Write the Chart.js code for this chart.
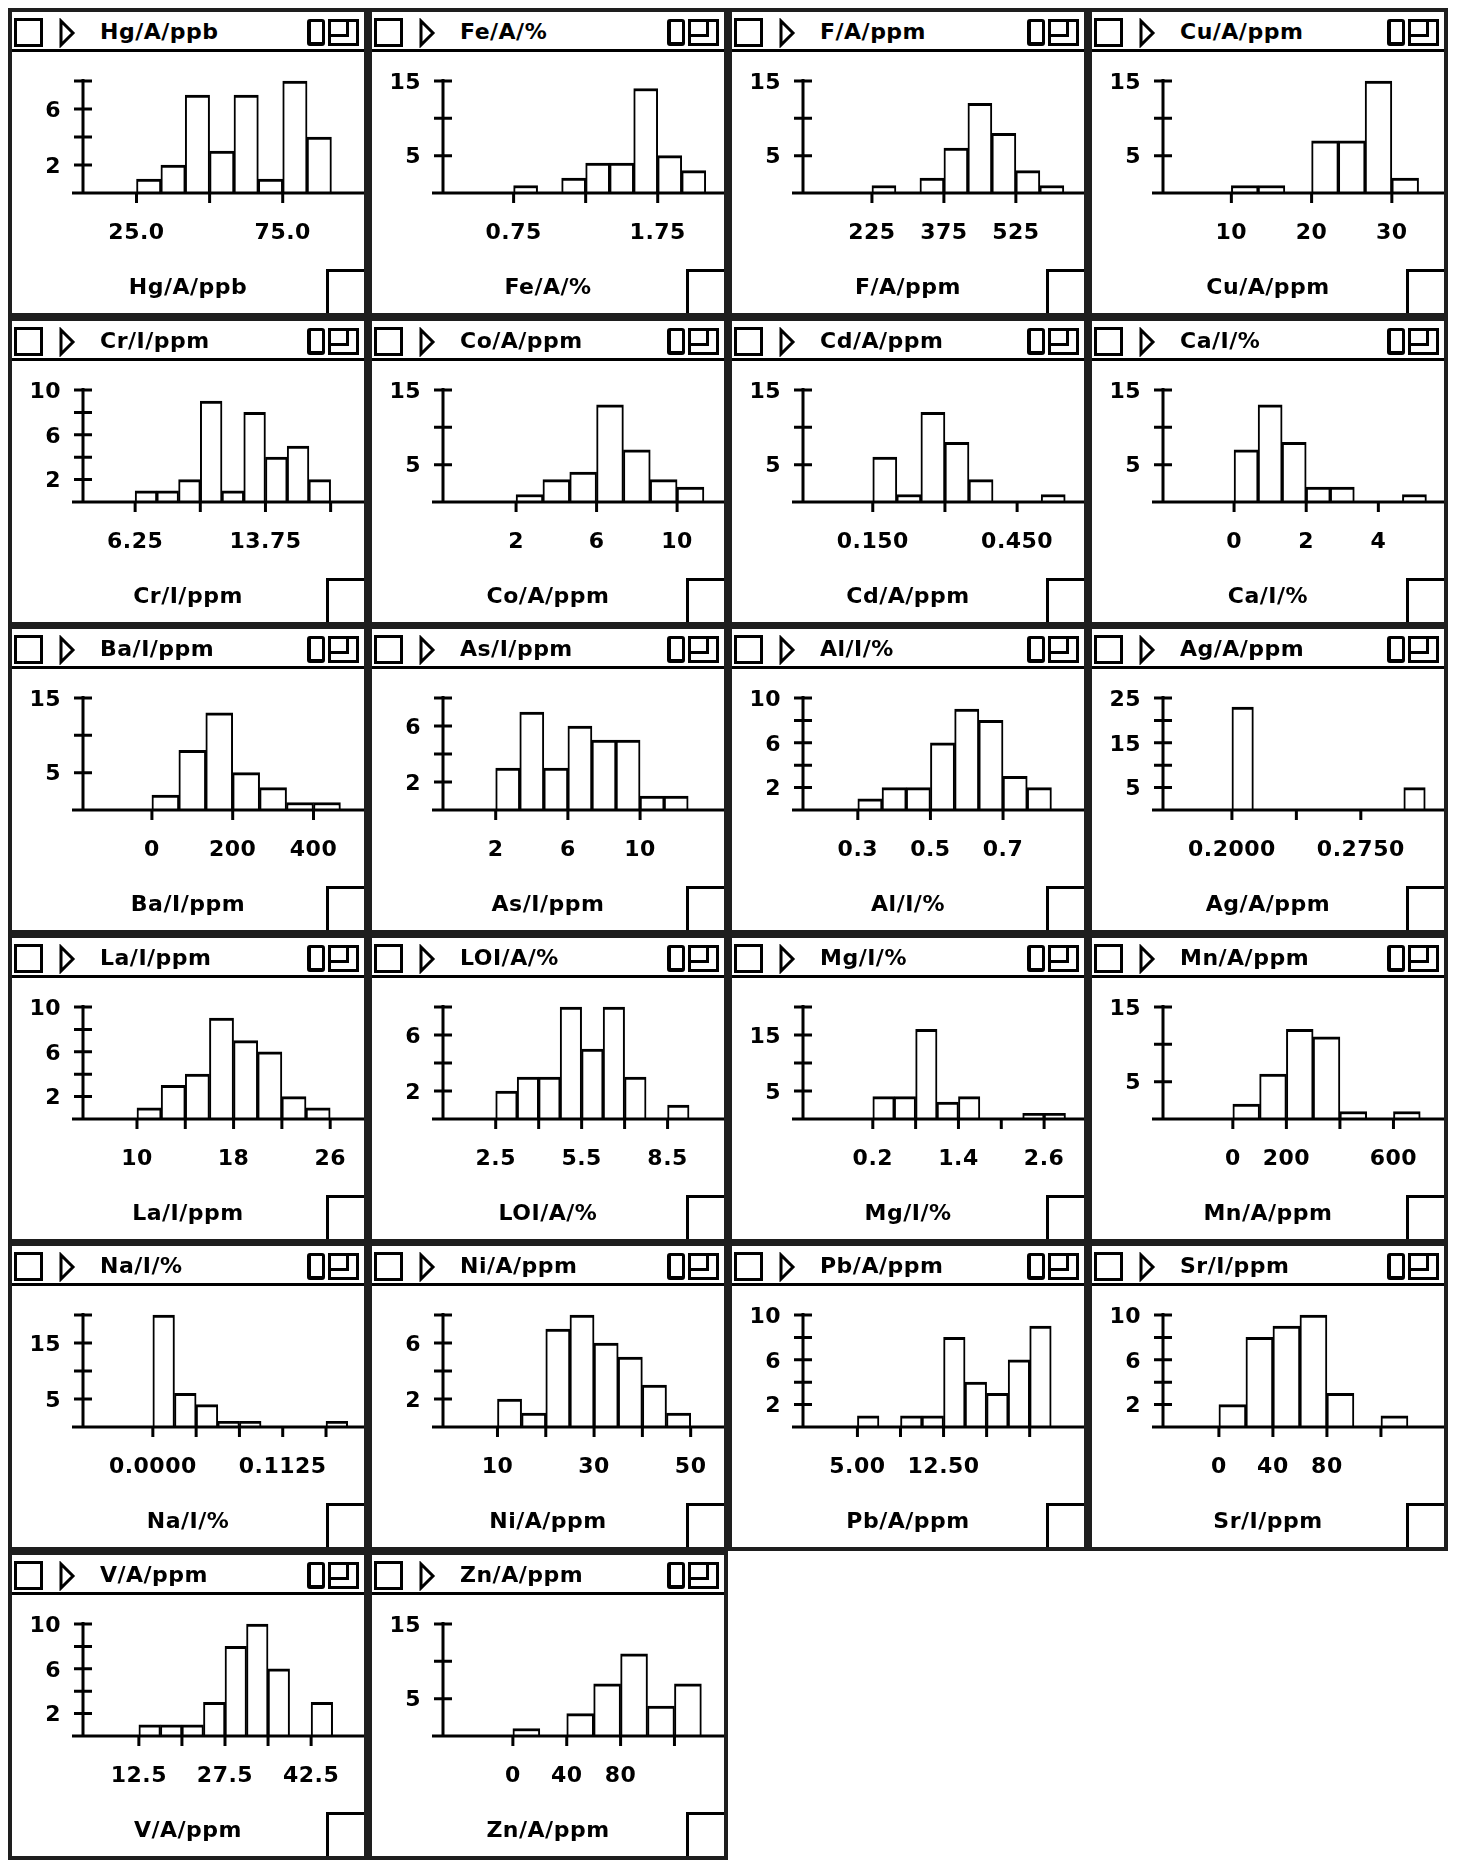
<!DOCTYPE html>
<html>
<head>
<meta charset="utf-8">
<script src="https://cdn.jsdelivr.net/npm/chart.js@4.4.1/dist/chart.umd.min.js"></script>
<style>
  html, body { margin: 0; padding: 0; background: #fff; }
  body { width: 1460px; height: 1860px; position: relative; overflow: hidden;
         font-family: "DejaVu Sans", sans-serif; font-weight: bold; color: #000; }
  .panel { position: absolute; width: 360px; height: 309px; box-sizing: border-box;
           border: 4px solid #1e1e1e; background: #fff; }
  .tbar { position: absolute; left: 0; top: 0; right: 0; height: 37px; border-bottom: 3px solid #000; }
  .chk { position: absolute; left: 2px; top: 6px; width: 29px; height: 29px; box-sizing: border-box; border: 3px solid #000; }
  .tri { position: absolute; left: 46px; top: 6px; }
  .ttl { position: absolute; left: 88px; top: 7px; font-size: 22px; line-height: 26px; letter-spacing: 0.5px; white-space: nowrap; }
  .ico1 { position: absolute; left: 295px; top: 7px; width: 18px; height: 27px; box-sizing: border-box;
          border: 3px solid #000; border-bottom-width: 4px; border-left-width: 4px; border-radius: 3px; }
  .ico2 { position: absolute; left: 316px; top: 7px; width: 31px; height: 27px; box-sizing: border-box; border: 3px solid #000; }
  .ico2 div { position: absolute; left: 0; top: 0; width: 15px; height: 12px; border-right: 3px solid #000; border-bottom: 3px solid #000; }
  canvas { position: absolute; left: 0; top: 40px; }
  .xttl { position: absolute; left: 0; right: 0; top: 261px; text-align: center; font-size: 22px;
          line-height: 28px; letter-spacing: 0.5px; }
  .corner { position: absolute; right: 0; bottom: 0; width: 38px; height: 44px; box-sizing: border-box;
            border-top: 3px solid #000; border-left: 3px solid #000; }
</style>
</head>
<body>
<script>
// one entry per histogram window
const panelNames = ["Hg/A/ppb", "Fe/A/%", "F/A/ppm", "Cu/A/ppm",
    "Cr/I/ppm", "Co/A/ppm", "Cd/A/ppm", "Ca/I/%",
    "Ba/I/ppm", "As/I/ppm", "Al/I/%", "Ag/A/ppm",
    "La/I/ppm", "LOI/A/%", "Mg/I/%", "Mn/A/ppm",
    "Na/I/%", "Ni/A/ppm", "Pb/A/ppm", "Sr/I/ppm",
    "V/A/ppm", "Zn/A/ppm"];

// left edge of the first bin and bin width
const binStart = [25, 0.75, 225, 10, 6.25, 2, 0.15, 0, 0, 2, 0.3, 0.2,
    10, 2.5, 0.2, 0, 0, 10, 5, 0, 12.5, 0];
const binWidth = [8.3333, 0.16667, 50, 3.3333, 1.25, 1.3333, 0.05, 0.66667, 66.667, 1.3333, 0.066667, 0.0125,
    2, 0.75, 0.3, 100, 0.01875, 5, 1.875, 20, 3.75, 20];

// counts per bin
const binCounts = [
    [1, 2, 7, 3, 7, 1, 8, 4],
    [1, 0, 2, 4, 4, 14, 5, 3],
    [1, 0, 2, 6, 12, 8, 3, 1],
    [1, 1, 0, 7, 7, 15, 2],
    [1, 1, 2, 9, 1, 8, 4, 5, 2],
    [1, 3, 4, 13, 7, 3, 2],
    [6, 1, 12, 8, 3, 0, 0, 1],
    [7, 13, 8, 2, 2, 0, 0, 1],
    [2, 8, 13, 5, 3, 1, 1],
    [3, 7, 3, 6, 5, 5, 1, 1],
    [1, 2, 2, 6, 9, 8, 3, 2],
    [23, 0, 0, 0, 0, 0, 0, 0, 5],
    [1, 3, 4, 9, 7, 6, 2, 1],
    [2, 3, 3, 8, 5, 8, 3, 0, 1],
    [4, 4, 16, 3, 4, 0, 0, 1, 1],
    [2, 6, 12, 11, 1, 0, 1],
    [20, 6, 4, 1, 1, 0, 0, 0, 1],
    [2, 1, 7, 8, 6, 5, 3, 1],
    [1, 0, 1, 1, 8, 4, 3, 6, 9],
    [2, 8, 9, 10, 3, 0, 1],
    [1, 1, 1, 3, 8, 10, 6, 0, 3],
    [1, 0, 3, 7, 11, 4, 7]
];

// x range of each window (value at the y axis, value at the right edge)
const xMin = [6.7, 0.26, 81.3, 1.48, 3.25, -1.63, 0.005, -1.97, -170.6, -0.92, 0.149, 0.1599,
    5.53, 0.66, -0.778, -260.9, -0.0605, -1.28, 0.26, -41.4, 2.77, -51.9];
const xMax = [102.8, 2.21, 667, 36.5, 19.42, 12.33, 0.589, 5.82, 525, 14.65, 0.923, 0.3234,
    28.8, 10.47, 3.159, 788.8, 0.1829, 56.9, 24.73, 166.7, 51.71, 156.8];

// x tick marks and their labels ('' = tick without a label)
const xTicks = [
    [25, 50, 75], [0.75, 1.25, 1.75], [225, 375, 525], [10, 20, 30],
    [6.25, 10, 13.75, 17.5], [2, 6, 10], [0.15, 0.3, 0.45], [0, 2, 4],
    [0, 200, 400], [2, 6, 10], [0.3, 0.5, 0.7], [0.2, 0.2375, 0.275],
    [10, 14, 18, 22, 26], [2.5, 4, 5.5, 7, 8.5], [0.2, 0.8, 1.4, 2.0, 2.6], [0, 200, 400, 600],
    [0, 0.0375, 0.075, 0.1125, 0.15], [10, 20, 30, 40, 50], [5, 8.75, 12.5, 16.25, 20], [0, 40, 80, 120],
    [12.5, 20, 27.5, 35, 42.5], [0, 40, 80, 120]
];
const xTickLabels = [
    ["25.0", "", "75.0"], ["0.75", "", "1.75"], ["225", "375", "525"], ["10", "20", "30"],
    ["6.25", "", "13.75", ""], ["2", "6", "10"], ["0.150", "", "0.450"], ["0", "2", "4"],
    ["0", "200", "400"], ["2", "6", "10"], ["0.3", "0.5", "0.7"], ["0.2000", "", "0.2750"],
    ["10", "", "18", "", "26"], ["2.5", "", "5.5", "", "8.5"], ["0.2", "", "1.4", "", "2.6"], ["0", "200", "", "600"],
    ["0.0000", "", "", "0.1125", ""], ["10", "", "30", "", "50"], ["5.00", "", "12.50", "", ""], ["0", "40", "80", ""],
    ["12.5", "", "27.5", "", "42.5"], ["0", "40", "80", ""]
];

// y axis: top value, tick step, labelled ticks
const yMax = [8, 15, 15, 15, 10, 15, 15, 15, 15, 8, 10, 25, 10, 8, 20, 15, 20, 8, 10, 10, 10, 15];
const yStep = [2, 5, 5, 5, 2, 5, 5, 5, 5, 2, 2, 5, 2, 2, 5, 5, 5, 2, 2, 2, 2, 5];
const yTickLabels = [
    [2, 6], [5, 15], [5, 15], [5, 15], [2, 6, 10], [5, 15], [5, 15], [5, 15],
    [5, 15], [2, 6], [2, 6, 10], [5, 15, 25], [2, 6, 10], [2, 6], [5, 15], [5, 15],
    [5, 15], [2, 6], [2, 6, 10], [2, 6, 10], [2, 6, 10], [5, 15]
];

const FONT = 'bold 22px "DejaVu Sans"';

// axes in the old Mac style: crossing y ticks, x axis running past the y axis
function makeDecor(i) {
    return {
        id: 'axisDecor' + i,
        afterDatasetsDraw(chart) {
            const { ctx, chartArea } = chart;
            const xs = chart.scales.x, ys = chart.scales.y;
            const y0 = ys.getPixelForValue(0);
            const left = chartArea.left;
            ctx.save();
            ctx.strokeStyle = '#000';
            ctx.lineWidth = 3;
            ctx.beginPath();
            ctx.moveTo(left - 11, y0);
            ctx.lineTo(chartArea.right, y0);
            ctx.moveTo(left, y0 + 1.5);
            ctx.lineTo(left, ys.getPixelForValue(yMax[i]) - 2);
            ys.ticks.forEach(t => {
                if (t.value <= 0) return;
                const py = ys.getPixelForValue(t.value);
                ctx.moveTo(left - 9, py);
                ctx.lineTo(left + 9, py);
            });
            xs.ticks.forEach(t => {
                const px = xs.getPixelForValue(t.value);
                ctx.moveTo(px, y0);
                ctx.lineTo(px, y0 + 10);
            });
            ctx.stroke();

            ctx.fillStyle = '#000';
            ctx.font = FONT;
            ctx.letterSpacing = '0.5px';
            ctx.textBaseline = 'middle';
            ctx.textAlign = 'right';
            yTickLabels[i].forEach(v => {
                ctx.fillText(String(v), left - 22, ys.getPixelForValue(v) + 2);
            });
            ctx.textAlign = 'center';
            xTicks[i].forEach((v, k) => {
                if (xTickLabels[i][k]) ctx.fillText(xTickLabels[i][k], xs.getPixelForValue(v), y0 + 40);
            });
            ctx.restore();
        }
    };
}

function buildPanel(i) {
    const row = Math.floor(i / 4), col = i % 4;
    const panel = document.createElement('div');
    panel.className = 'panel';
    panel.style.left = (8 + col * 360) + 'px';
    panel.style.top = (8 + row * 308.5) + 'px';
    panel.innerHTML = `
        <div class="tbar">
            <div class="chk"></div>
            <svg class="tri" width="18" height="30"><polygon points="3,3 15,15 3,27" fill="none" stroke="#000" stroke-width="3"/></svg>
            <div class="ttl">${panelNames[i]}</div>
            <div class="ico1"></div>
            <div class="ico2"><div></div></div>
        </div>
        <canvas width="352" height="261"></canvas>
        <div class="xttl">${panelNames[i]}</div>
        <div class="corner"></div>
    `;
    document.body.appendChild(panel);

    const points = binCounts[i].map((c, k) => ({ x: binStart[i] + (k + 0.5) * binWidth[i], y: c }));
    const yTickVals = [];
    for (let v = 0; v <= yMax[i] + 1e-9; v += yStep[i]) yTickVals.push(v);

    new Chart(panel.querySelector('canvas'), {
        type: 'bar',
        data: {
            datasets: [{
                data: points,
                backgroundColor: '#fff',
                borderColor: '#000',
                borderWidth: { top: 3, left: 2, right: 2, bottom: 0 },
                borderSkipped: false,
                barPercentage: 1,
                categoryPercentage: 1,
                grouped: false,
                clip: false
            }]
        },
        options: {
            responsive: false,
            animation: false,
            events: [],
            layout: { padding: { left: 71, right: 0, top: 29, bottom: 120 } },
            plugins: { legend: { display: false }, tooltip: { enabled: false } },
            scales: {
                x: {
                    type: 'linear', display: false, offset: false,
                    min: xMin[i], max: xMax[i],
                    afterBuildTicks: s => { s.ticks = xTicks[i].map(v => ({ value: v })); }
                },
                y: {
                    type: 'linear', display: false,
                    min: 0, max: yMax[i],
                    afterBuildTicks: s => { s.ticks = yTickVals.map(v => ({ value: v })); }
                }
            }
        },
        plugins: [makeDecor(i)]
    });
}

panelNames.forEach((n, i) => buildPanel(i));
</script>
</body>
</html>
